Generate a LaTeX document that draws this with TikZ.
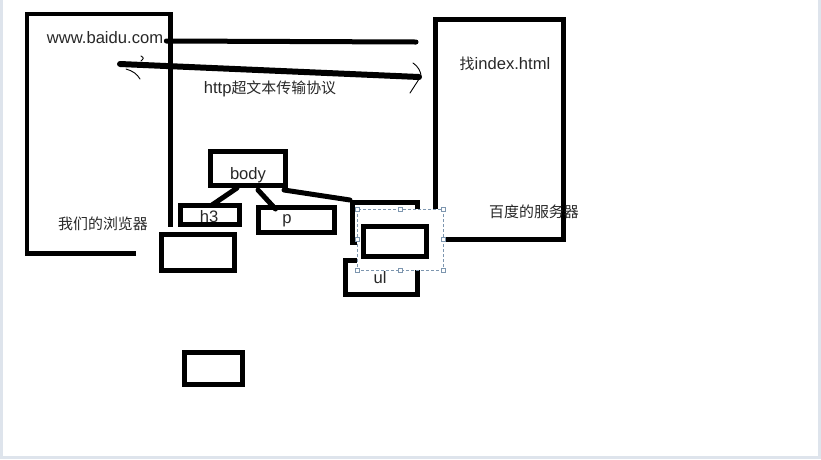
\documentclass[tikz,border=0pt]{standalone}
\usepackage{fontspec}
\setmainfont{Liberation Sans}
\newfontfamily\cjk{Noto Sans CJK SC}[Scale=0.9]
\usetikzlibrary{calc}
\newcommand{\pencolor}{black}
\newcommand{\penwidth}{5pt}
\definecolor{txtgray}{RGB}{40,40,40}
\definecolor{selblue}{RGB}{125,150,175}
\definecolor{framegray}{RGB}{222,228,236}

\begin{document}
\begin{tikzpicture}[x=1pt,y=-1pt]
\tikzset{
  box/.style={draw=\pencolor, line width=\penwidth, inner sep=0pt},
  txt/.style={text=txtgray, inner sep=0pt, font=\fontsize{16.6}{18}\selectfont},
  wire/.style={\pencolor, line width=\penwidth, line cap=round},
  thinpen/.style={\pencolor, line width=0.9pt, line cap=round},
  handle/.style={draw=selblue, fill=white, line width=0.6pt, inner sep=0pt, minimum size=4pt},
}
\useasboundingbox (0,0) rectangle (821,459);
\fill[white] (0,0) rectangle (821,459);
\draw[framegray, line width=3pt] (1.5,0) -- (1.5,457.5) -- (819.5,457.5) -- (819.5,0);
%browser
\draw[\pencolor, line width=4.5pt] (136,253.5) -- (27,253.5) -- (27,14) -- (170.5,14) -- (170.5,227);
\node[txt] (url) at (105,38) {www.baidu.com};
\node[txt] (browser) at (103,224) {\cjk 我们的浏览器};
%server
\draw[\pencolor, line width=\penwidth] (435.5,19) rectangle (563.5,239.5);
\node[txt] (find) at (505,64) {{\cjk 找}index.html};
%request and answer
\coordinate (req) at (416,42);
\coordinate (back) at (120,64);
\coordinate (ack) at (419,77);
\draw[wire] ([xshift=3pt,yshift=-3pt]url.east) -- (req);
\draw[wire, line width=6pt] (back) -- (ack);
\draw[thinpen] ($(ack)+(-6,-14)$) .. controls ($(ack)+(-1,-11)$) and ($(ack)+(2,-5)$) .. ($(ack)+(2,-1)$) -- ($(ack)+(-9,16)$);
\draw[thinpen] ($(back)+(21,-8)$) .. controls ($(back)+(24,-6)$) .. ($(back)+(21,-3)$);
\draw[thinpen] ($(back)+(6,5)$) .. controls ($(back)+(13,7)$) and ($(back)+(17,10)$) .. ($(back)+(20,15)$);
\node[txt] (http) at (270,89) {http{\cjk 超文本传输协议}};
%tree
\node[box, minimum width=75pt, minimum height=34pt] (body) at (248,168.5) {};
\node[box, minimum width=59pt, minimum height=19pt] (h3) at (210,215) {};
\node[box, minimum width=76pt, minimum height=25pt] (p) at (296.5,220) {};
\node[box, minimum width=73pt, minimum height=36pt] (under) at (198,252.5) {};
\node[box, minimum width=58pt, minimum height=32pt] (lone) at (213.5,368.5) {};
\node[box, minimum width=65pt, minimum height=40pt] (behind) at (385,222.5) {};
\node[box, minimum width=72pt, minimum height=34pt] (ul) at (381.5,277.5) {};
\draw[wire] ([xshift=-11pt]body.south) -- ([xshift=2pt,yshift=-2pt]h3.north);
\draw[wire] ([xshift=10pt,yshift=-2pt]body.south) -- ([xshift=-21pt,yshift=-4pt]p.north);
\draw[wire] ([xshift=-4pt,yshift=-2pt]body.south east) -- (behind.north west);
%selection
\draw[selblue, fill=white, line width=0.7pt, dash pattern=on 3pt off 2pt] (357,209) rectangle (443,270);
\node[box, minimum width=63pt, minimum height=30pt] (moved) at (395,241.5) {};
\foreach \hx/\hy in {357/209, 400/209, 443/209, 357/239.5, 443/239.5, 357/270, 400/270, 443/270}
  \node[handle] at (\hx,\hy) {};
%names
\node[txt] (bodyname) at (248,175) {body};
\node[txt] (h3name) at (209,217) {h3};
\node[txt] (pname) at (287,221) {p};
\node[txt] (ulname) at (380,278) {ul};
\node[txt] (server) at (534,212) {\cjk 百度的服务器};
\end{tikzpicture}
\end{document}
